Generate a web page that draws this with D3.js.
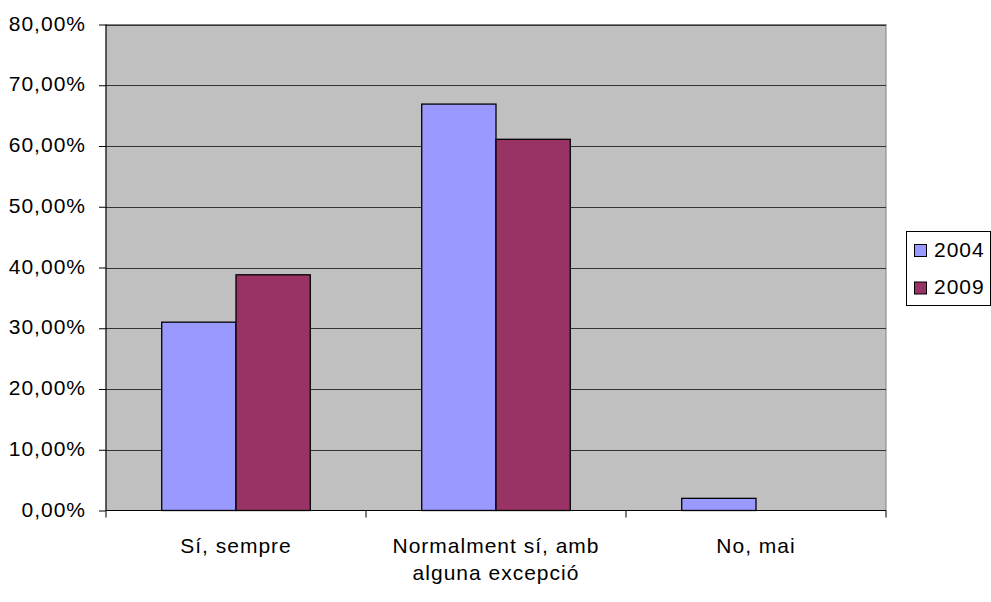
<!DOCTYPE html>
<html>
<head>
<meta charset="utf-8">
<script src="https://cdn.jsdelivr.net/npm/d3@7"></script>
<style>
  html, body { margin: 0; padding: 0; background: #fff; }
  svg { display: block; font-family: "Liberation Sans", Arial, sans-serif; }
</style>
</head>
<body>
<svg id="chart" width="991" height="602"></svg>
<script>
// Survey answers, share of respondents per year
const categories = [["Sí, sempre"], ["Normalment sí, amb", "alguna excepció"], ["No, mai"]];
const seriesNames = ["2004", "2009"];
const values2004 = [0.310, 0.669, 0.020];
const values2009 = [0.388, 0.611, 0.000];
const yTicks = [0, 0.1, 0.2, 0.3, 0.4, 0.5, 0.6, 0.7, 0.8];
const colors = ["#9999ff", "#993366"];

const FONT = 21;
const SPACING = "1px";

const svg = d3.select("#chart");
const plot = { left: 106, right: 886, top: 24.5, bottom: 510.5 };

const x0 = d3.scaleBand()
  .domain(d3.range(categories.length))
  .range([plot.left, plot.right])
  .paddingInner(0).paddingOuter(0);

const x1 = d3.scaleBand()
  .domain(seriesNames)
  .range([0, x0.bandwidth()])
  .paddingInner(0)
  .paddingOuter(0.75);

const y = d3.scaleLinear().domain([0, 0.8]).range([plot.bottom, plot.top]);

// plot background
svg.append("rect")
  .attr("x", plot.left).attr("y", plot.top)
  .attr("width", plot.right - plot.left).attr("height", plot.bottom - plot.top)
  .attr("fill", "#c0c0c0").attr("stroke", "#808080").attr("stroke-width", 1);

// gridlines
svg.append("g").selectAll("line").data(yTicks.slice(1)).join("line")
  .attr("x1", plot.left).attr("x2", plot.right)
  .attr("y1", d => Math.round(y(d)) + 0.5).attr("y2", d => Math.round(y(d)) + 0.5)
  .attr("stroke", "#333").attr("stroke-width", 1);

// bars
const allValues = [values2004, values2009];
const g = svg.append("g");
categories.forEach((c, i) => {
  seriesNames.forEach((s, j) => {
    const v = allValues[j][i];
    if (v <= 0) return;
    g.append("rect")
      .attr("x", x0(i) + x1(s))
      .attr("y", y(v))
      .attr("width", x1.bandwidth())
      .attr("height", y(0) - y(v))
      .attr("fill", colors[j])
      .attr("stroke", "#000").attr("stroke-width", 1.3);
  });
});

// y axis
const yAxis = d3.axisLeft(y).tickValues(yTicks).tickSize(7).tickPadding(13)
  .tickFormat(d => d3.format(".2f")(d * 100).replace(".", ",") + "%");
const ya = svg.append("g").attr("transform", `translate(${plot.left},0)`).call(yAxis);
ya.select(".domain").attr("stroke", "#000").attr("d", `M0,${plot.top}V${plot.bottom}`);
ya.selectAll(".tick line").attr("stroke", "#000");
ya.selectAll("text").attr("font-size", FONT).attr("fill", "#000")
  .attr("letter-spacing", SPACING).attr("dy", "0.27em")
  .attr("font-family", "Liberation Sans, Arial, sans-serif");

// x axis baseline and category separators
const xa = svg.append("g");
xa.append("line").attr("x1", plot.left).attr("x2", plot.right)
  .attr("y1", plot.bottom).attr("y2", plot.bottom).attr("stroke", "#000");
xa.selectAll("line.sep").data(d3.range(categories.length + 1)).join("line")
  .attr("class", "sep")
  .attr("x1", d => plot.left + d * x0.bandwidth()).attr("x2", d => plot.left + d * x0.bandwidth())
  .attr("y1", plot.bottom).attr("y2", plot.bottom + 7)
  .attr("stroke", "#000");

// category labels
categories.forEach((lines, i) => {
  const cx = x0(i) + x0.bandwidth() / 2;
  const t = svg.append("text")
    .attr("x", cx)
    .attr("y", 553)
    .attr("text-anchor", "middle")
    .attr("font-size", FONT).attr("letter-spacing", SPACING).attr("fill", "#000");
  lines.forEach((l, k) => {
    t.append("tspan").attr("x", cx).attr("dy", k === 0 ? 0 : 27).text(l);
  });
});

// legend
const lg = svg.append("g");
lg.append("rect").attr("x", 906.5).attr("y", 231.5).attr("width", 84).attr("height", 74)
  .attr("fill", "#fff").attr("stroke", "#000");
seriesNames.forEach((s, j) => {
  const base = 256.5 + j * 37.5;
  lg.append("rect").attr("x", 914.5).attr("y", base - 12).attr("width", 12).attr("height", 12)
    .attr("fill", colors[j]).attr("stroke", "#000");
  lg.append("text").attr("x", 934).attr("y", base).attr("font-size", FONT)
    .attr("letter-spacing", SPACING).attr("fill", "#000").text(s);
});
</script>
</body>
</html>
